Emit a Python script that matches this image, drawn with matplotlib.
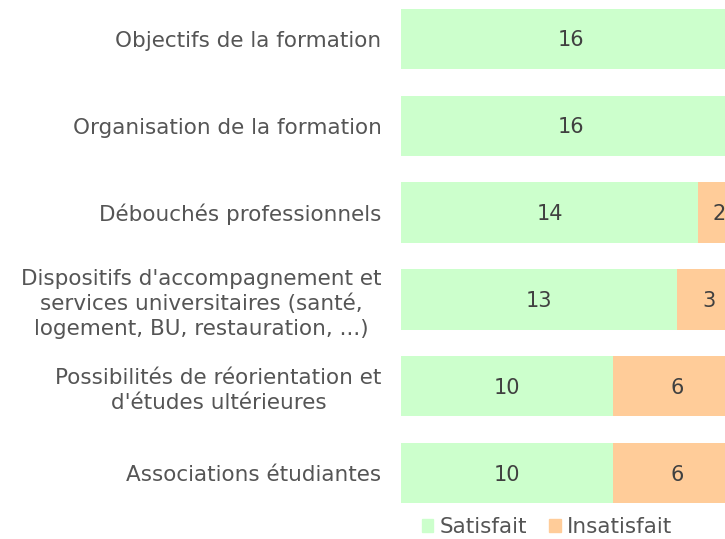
import matplotlib
matplotlib.use("Agg")
import matplotlib.pyplot as plt
from matplotlib.patches import Patch

# data, top to bottom as shown
categories = [
    "Objectifs de la formation",
    "Organisation de la formation",
    "Débouchés professionnels",
    "Dispositifs d'accompagnement et\nservices universitaires (santé,\nlogement, BU, restauration, ...)",
    "Possibilités de réorientation et\nd'études ultérieures",
    "Associations étudiantes",
]
satisfait = [16, 16, 14, 13, 10, 10]
insatisfait = [0, 0, 2, 3, 6, 6]

GREEN = "#ccffcc"
ORANGE = "#ffcc99"
TEXT = "#555555"
NUM = "#404040"

plt.rcParams["font.family"] = ["DejaVu Sans"]

fig = plt.figure(figsize=(7.25, 5.39), dpi=100)
W, H = 725, 539
ax = fig.add_axes([401 / W, (H - 510) / H, 324 / W, 510 / H])

pos = list(range(len(categories)))
ax.barh(pos, satisfait, height=0.69, color=GREEN, label="Satisfait")
ax.barh(pos, insatisfait, left=satisfait, height=0.69, color=ORANGE, label="Insatisfait")

for i, (s, n) in enumerate(zip(satisfait, insatisfait)):
    if s:
        ax.text(s / 2, i + 0.02, str(s), ha="center", va="center", fontsize=15, color=NUM)
    if n:
        ax.text(s + n / 2, i + 0.02, str(n), ha="center", va="center", fontsize=15, color=NUM)

ax.set_xlim(0, 15.26)
ax.set_ylim(5.42, -0.443)
ax.set_yticks(pos)
ax.set_yticklabels(categories, fontsize=15.5, color=TEXT, linespacing=1.3)
for lab in ax.get_yticklabels():
    lab.set_multialignment("center")
ax.tick_params(axis="y", length=0, pad=14)
ax.set_xticks([])
for sp in ax.spines.values():
    sp.set_visible(False)

handles = [Patch(color=GREEN, label="Satisfait"), Patch(color=ORANGE, label="Insatisfait")]
fig.legend(handles=handles, loc="center", bbox_to_anchor=(547 / W, (H - 527) / H),
           ncol=2, frameon=False, fontsize=15.5, handlelength=0.55, handleheight=0.55,
           handletextpad=0.3, columnspacing=1.0, labelcolor=TEXT)

fig.savefig("out.png", dpi=100)
